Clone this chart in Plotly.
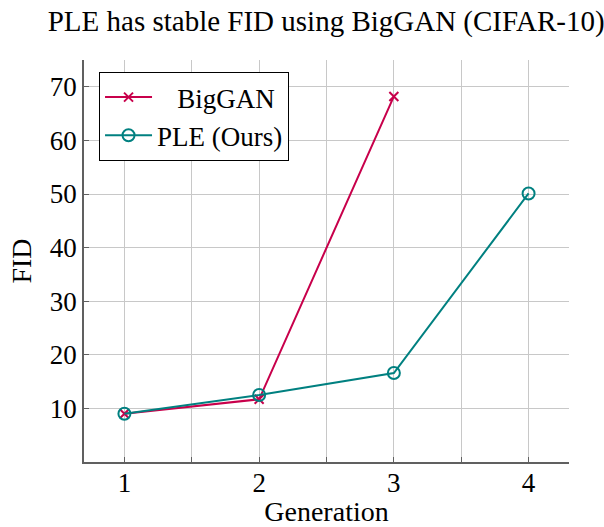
import plotly.graph_objects as go

generations_biggan = [1, 2, 3]
fid_biggan = [9.0, 11.7, 68.2]
generations_ple = [1, 2, 3, 4]
fid_ple = [9.0, 12.5, 16.6, 50.1]
x_ticks = [1, 2, 3, 4]
y_ticks = [10, 20, 30, 40, 50, 60, 70]

red = "#c8004b"
teal = "#008080"
font = "Liberation Serif"
axis_gray = "#606060"
grid_gray = "#c8c8c8"

fig = go.Figure()
fig.add_trace(go.Scatter(
    x=generations_biggan, y=fid_biggan, mode="lines+markers",
    name="\u00a0\u00a0\u00a0BigGAN",
    line=dict(color=red, width=2),
    marker=dict(symbol="x-thin", size=9, line=dict(color=red, width=2), color=red),
))
fig.add_trace(go.Scatter(
    x=generations_ple, y=fid_ple, mode="lines+markers", name="PLE (Ours)",
    line=dict(color=teal, width=2),
    marker=dict(symbol="circle-open", size=12, line=dict(color=teal, width=2), color=teal),
))

fig.update_layout(
    width=604, height=527,
    margin=dict(l=84, r=35, t=60, b=65),
    plot_bgcolor="white", paper_bgcolor="white",
    font=dict(family=font, size=27, color="black"),
    title=dict(text="PLE has stable FID using BigGAN (CIFAR-10)", x=0.54, xanchor="center",
               y=0.96, yanchor="middle", font=dict(family=font, size=29)),
    showlegend=True,
    legend=dict(x=0.031, y=0.97, xanchor="left", yanchor="top",
                bordercolor="black", borderwidth=1, bgcolor="white",
                font=dict(family=font, size=27), tracegroupgap=0, itemwidth=47),
)
fig.update_xaxes(
    range=[0.7, 4.3], tickvals=x_ticks, ticktext=[str(v) for v in x_ticks],
    showgrid=True, gridcolor=grid_gray, gridwidth=1,
    showline=True, linecolor=axis_gray, linewidth=1.5, mirror=False,
    ticks="inside", ticklen=5, tickcolor=axis_gray, ticklabelstandoff=-4,
    minor=dict(dtick=0.5, tick0=0.5, showgrid=True, gridcolor=grid_gray, ticks="inside", ticklen=5, tickcolor=axis_gray),
    zeroline=False, tickfont=dict(size=27), automargin=False,
    title=dict(text="Generation", font=dict(size=28), standoff=16),
)
fig.update_yaxes(
    range=[0, 75], tickvals=y_ticks,
    showgrid=True, gridcolor=grid_gray, gridwidth=1,
    showline=True, linecolor=axis_gray, linewidth=1.5, mirror=False,
    ticks="inside", ticklen=5, tickcolor=axis_gray,
    zeroline=False, tickfont=dict(size=27), automargin=False,
    title=dict(text="FID", font=dict(size=28), standoff=10),
)
fig.write_html("out.html")
